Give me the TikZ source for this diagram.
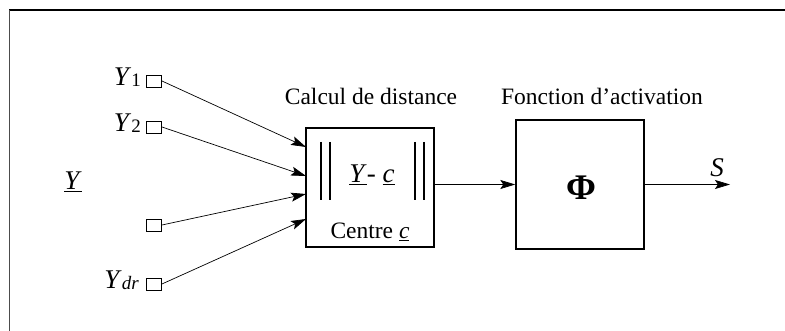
\documentclass[tikz,border=0pt]{standalone}
\usepackage{fontspec}
\setmainfont{Liberation Serif}
\usetikzlibrary{arrows.meta}
\tikzset{
  lbl/.style={inner sep=0pt, font=\fontsize{23.5}{26}\selectfont},
  mlbl/.style={inner sep=0pt, font=\fontsize{27}{30}\selectfont},
  inbox/.style={draw, line width=0.9pt, minimum width=15pt, minimum height=12pt, inner sep=0pt},
  blockbox/.style={draw, line width=1.4pt, inner sep=0pt},
  arr/.style={line width=0.7pt, -{Stealth[length=15pt,width=9pt,inset=3pt]}},
  bar/.style={line width=1.8pt}
}
\begin{document}
\begin{tikzpicture}[x=1pt,y=-1pt]
\useasboundingbox (0,0) rectangle (785,331);
% frame
\draw[line width=1.3pt] (9,10) -- (785,10);
\draw[line width=1pt, black!70] (9,10) -- (9,331);
% input squares
\node[inbox] (s1) at (154,81) {};
\node[inbox] (s2) at (154,127) {};
\node[inbox] (s3) at (154,225) {};
\node[inbox] (s4) at (154,284) {};
% labels
\node[mlbl, anchor=base east] (l1) at (141,86) {\textit{Y}\raisebox{-1pt}{\fontsize{19}{19}\selectfont 1}};
\node[mlbl, anchor=base east] (l2) at (141,132) {\textit{Y}\raisebox{-1pt}{\fontsize{19}{19}\selectfont 2}};
\node[mlbl, anchor=base east] (l4) at (139,289) {\textit{Y}\raisebox{-1pt}{\fontsize{19}{19}\selectfont\itshape dr}};
\node[mlbl, anchor=base] (ly) at (73,190) {\underline{\textit{Y}}};
% blocks
\node[blockbox, minimum width=128pt, minimum height=119pt] (b1) at (370,187.5) {};
\node[blockbox, minimum width=128pt, minimum height=129pt] (b2) at (580,184.5) {};
\node[lbl] (t1) at (371,96) {Calcul de distance};
\node[lbl] (t2) at (602,96) {Fonction d’activation};
% content of block 1
\draw[bar] (321,142) -- (321,200);
\draw[bar] (330,142) -- (330,200);
\draw[bar] (415,142) -- (415,200);
\draw[bar] (424,142) -- (424,200);
\node[mlbl, anchor=base] (yc) at (372,183) {\underline{\textit{Y}}- \underline{\textit{c}}};
\node[lbl, anchor=base] (cc) at (370,239) {Centre \underline{\textit{c}}};
% content of block 2
\node[inner sep=0pt, font=\fontsize{36}{38}\selectfont\bfseries] (phi) at (581,188) {Φ};
% input arrows
\coordinate (a1) at (306,147);
\coordinate (a2) at (306,176);
\coordinate (a3) at (306,194);
\coordinate (a4) at (306,219);
\draw[arr] (s1.east) -- (a1);
\draw[arr] (s2.east) -- (a2);
\draw[arr] (s3.east) -- (a3);
\draw[arr] (s4.east) -- (a4);
% middle and output
\draw[arr] (b1.east |- b2.west) -- (b2.west);
\coordinate (out) at (730,184.5);
\draw[arr] (b2.east) -- (out);
\node[mlbl] (S) at (717,168) {\textit{S}};
\end{tikzpicture}
\end{document}
